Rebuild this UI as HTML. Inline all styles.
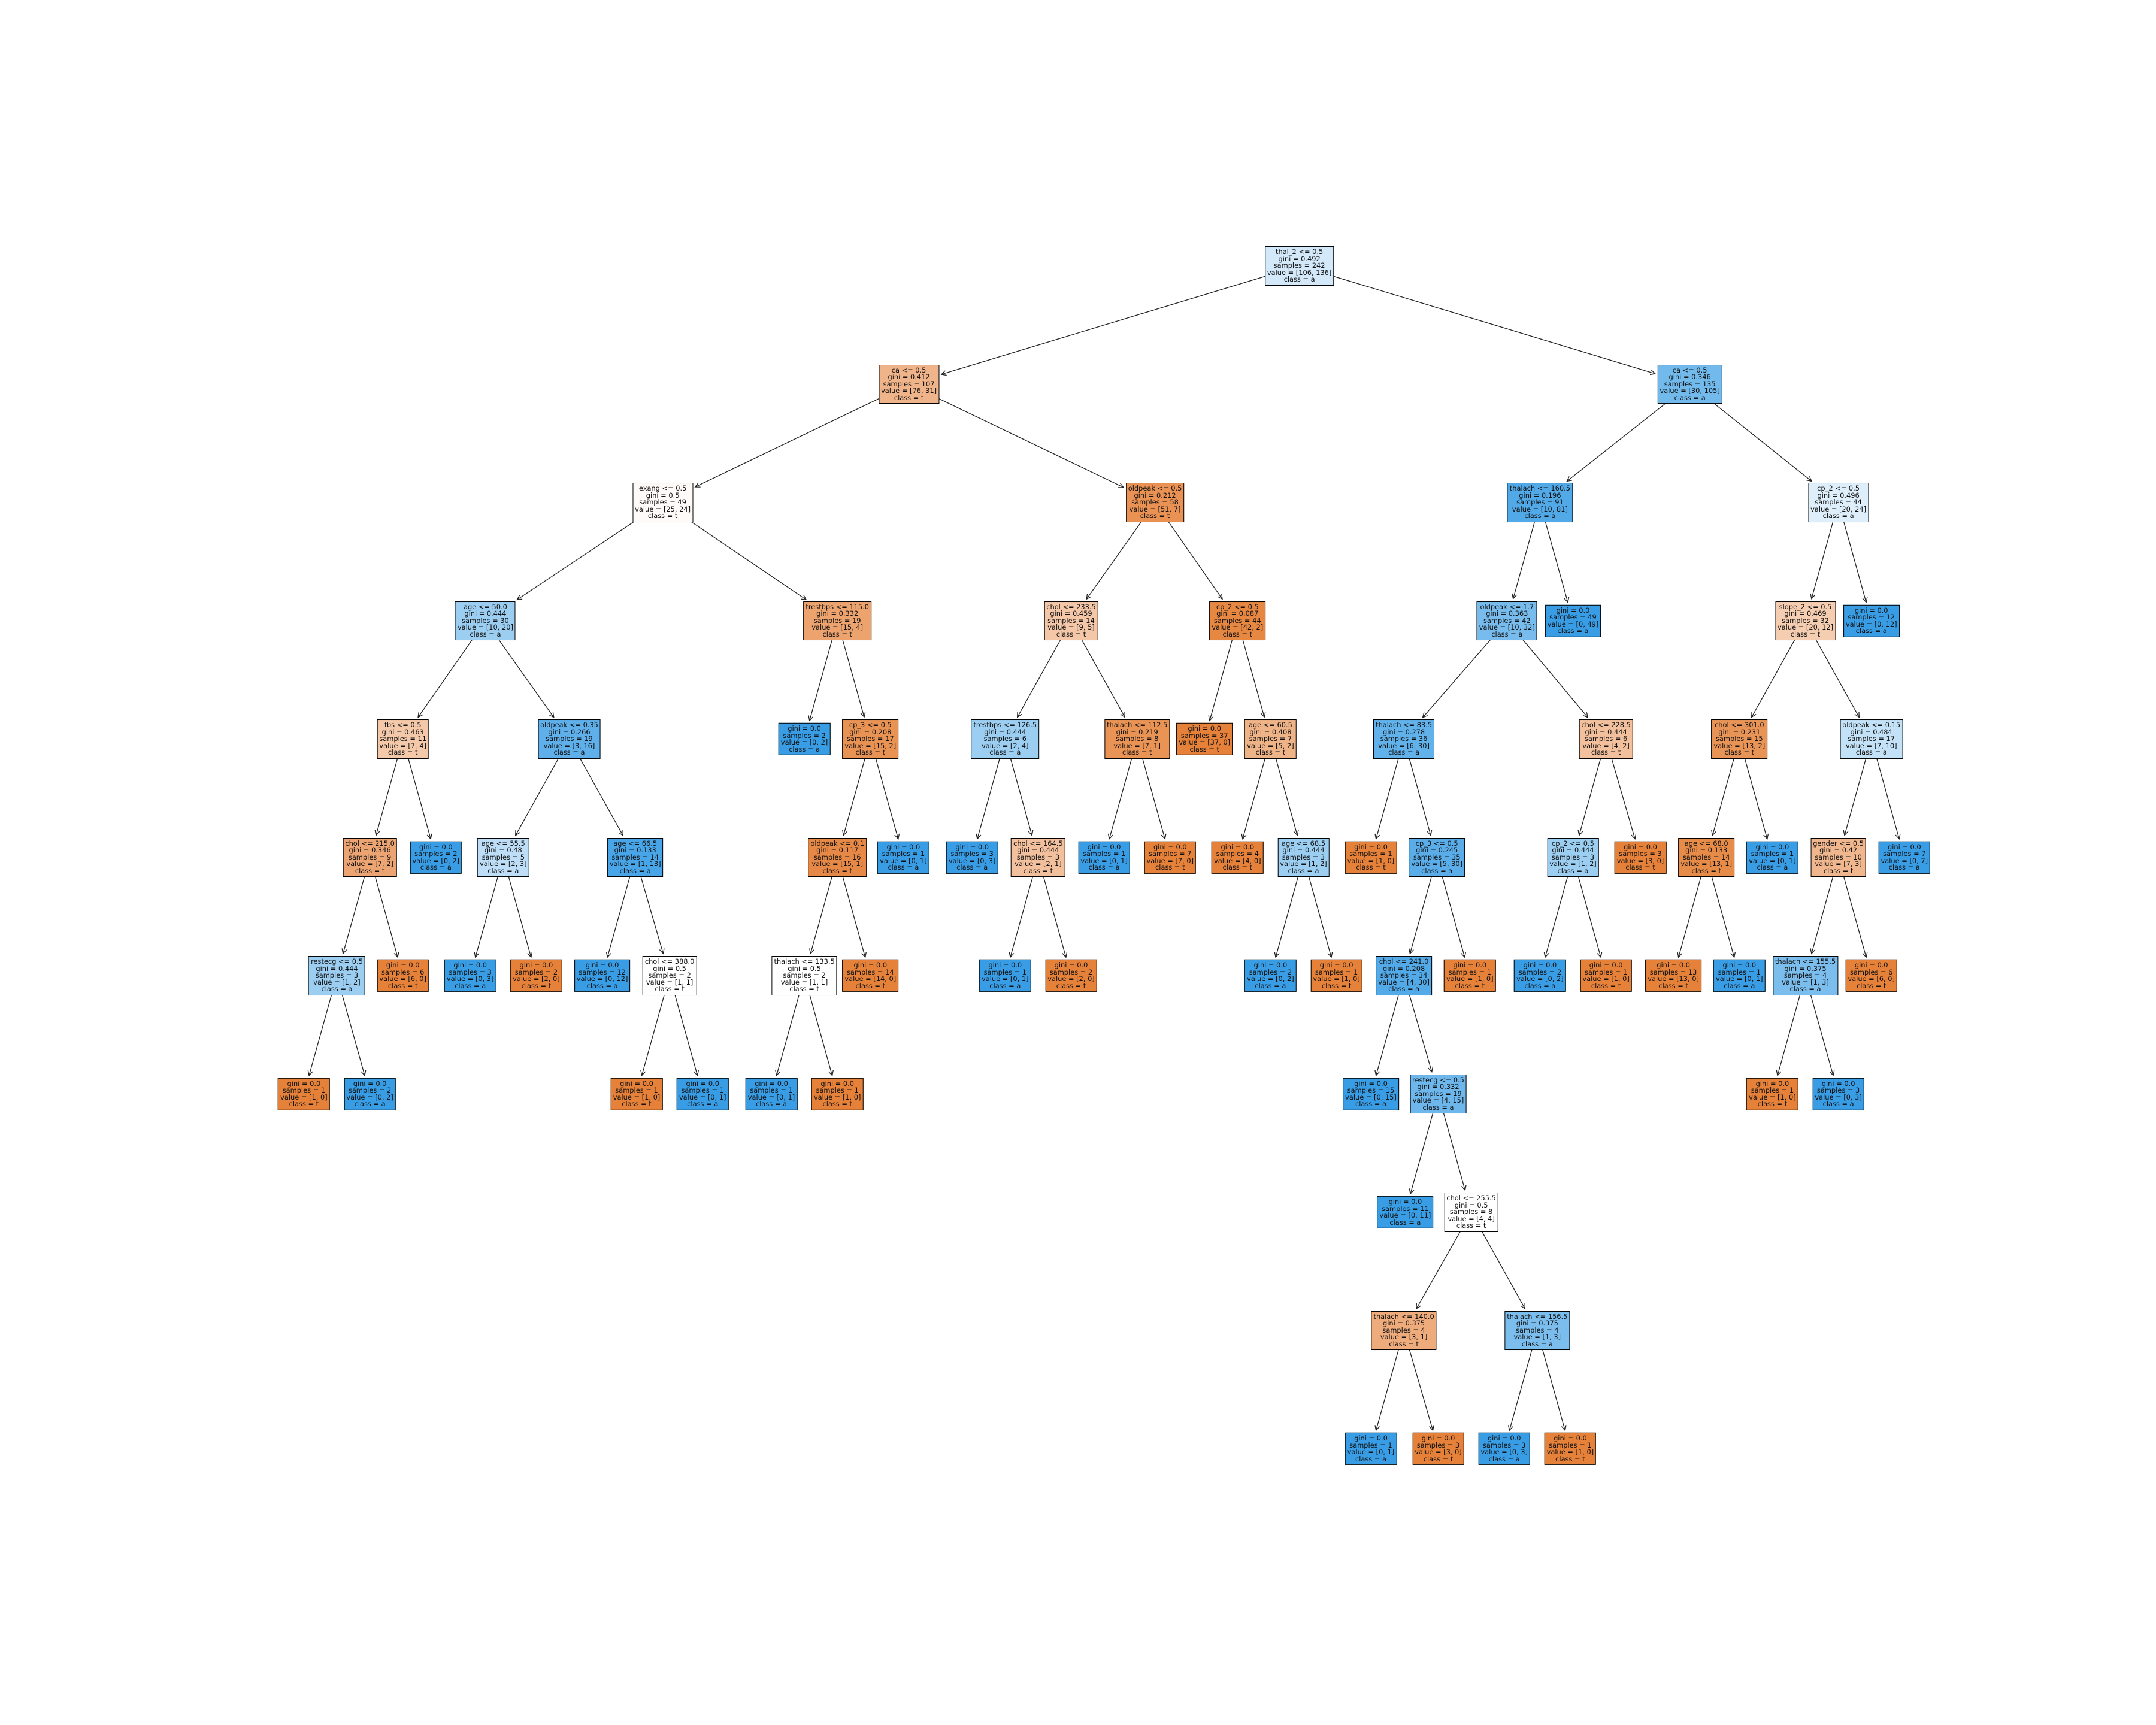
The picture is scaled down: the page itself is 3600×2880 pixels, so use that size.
<!DOCTYPE html>
<html><head><meta charset="utf-8"><title>Decision tree</title>
<style>
html,body{margin:0;padding:0;background:#fff;}
#wrap{position:relative;width:3600px;height:2880px;overflow:hidden;background:#fff;}
svg{position:absolute;left:0;top:0;}
.node{position:absolute;transform:translate(-50%,-50%);border:1.3px solid #000;padding:3px 3px;
font-family:"DejaVu Sans","Liberation Sans",sans-serif;font-size:11.4px;line-height:11.6px;
text-align:center;white-space:nowrap;color:#111;box-sizing:border-box;}
</style></head><body>
<div id="wrap">
<svg id="edges" width="3600" height="2880"></svg>
</div>
<script>
const parents = [-1,0,1,2,3,4,5,6,6,5,4,3,11,12,12,11,15,15,17,17,2,20,20,22,23,24,24,23,22,1,29,30,31,31,33,33,30,36,36,29,39,39,41,41,43,43,0,46,47,48,49,49,51,52,52,54,54,56,57,57,56,60,60,51,48,64,65,65,64,47,46,70,71,72,73,73,72,71,77,78,79,79,78,77,70];
const depths = [0,1,2,3,4,5,6,7,7,6,5,4,5,6,6,5,6,6,7,7,3,4,4,5,6,7,7,6,5,2,3,4,5,5,6,6,4,5,5,3,4,4,5,5,6,6,1,2,3,4,5,5,6,7,7,8,8,9,10,10,9,10,10,6,4,5,6,6,5,3,2,3,4,5,6,6,5,4,5,6,7,7,6,5,3];
const splits = ["thal_2 <= 0.5","ca <= 0.5","exang <= 0.5","age <= 50.0","fbs <= 0.5","chol <= 215.0","restecg <= 0.5",null,null,null,null,"oldpeak <= 0.35","age <= 55.5",null,null,"age <= 66.5",null,"chol <= 388.0",null,null,"trestbps <= 115.0",null,"cp_3 <= 0.5","oldpeak <= 0.1","thalach <= 133.5",null,null,null,null,"oldpeak <= 0.5","chol <= 233.5","trestbps <= 126.5",null,"chol <= 164.5",null,null,"thalach <= 112.5",null,null,"cp_2 <= 0.5",null,"age <= 60.5",null,"age <= 68.5",null,null,"ca <= 0.5","thalach <= 160.5","oldpeak <= 1.7","thalach <= 83.5",null,"cp_3 <= 0.5","chol <= 241.0",null,"restecg <= 0.5",null,"chol <= 255.5","thalach <= 140.0",null,null,"thalach <= 156.5",null,null,null,"chol <= 228.5","cp_2 <= 0.5",null,null,null,null,"cp_2 <= 0.5","slope_2 <= 0.5","chol <= 301.0","age <= 68.0",null,null,null,"oldpeak <= 0.15","gender <= 0.5","thalach <= 155.5",null,null,null,null,null];
const ginis = ["0.492","0.412","0.5","0.444","0.463","0.346","0.444","0.0","0.0","0.0","0.0","0.266","0.48","0.0","0.0","0.133","0.0","0.5","0.0","0.0","0.332","0.0","0.208","0.117","0.5","0.0","0.0","0.0","0.0","0.212","0.459","0.444","0.0","0.444","0.0","0.0","0.219","0.0","0.0","0.087","0.0","0.408","0.0","0.444","0.0","0.0","0.346","0.196","0.363","0.278","0.0","0.245","0.208","0.0","0.332","0.0","0.5","0.375","0.0","0.0","0.375","0.0","0.0","0.0","0.444","0.444","0.0","0.0","0.0","0.0","0.496","0.469","0.231","0.133","0.0","0.0","0.0","0.484","0.42","0.375","0.0","0.0","0.0","0.0","0.0"];
const valT = [106,76,25,10,7,7,1,1,0,6,0,3,2,0,2,1,0,1,1,0,15,0,15,15,1,0,1,14,0,51,9,2,0,2,0,2,7,0,7,42,37,5,4,1,0,1,30,10,10,6,1,5,4,0,4,0,4,3,0,3,1,0,1,1,4,1,0,1,3,0,20,20,13,13,13,0,0,7,7,1,1,0,6,0,0];
const valA = [136,31,24,20,4,2,2,0,2,0,2,16,3,3,0,13,12,1,0,1,4,2,2,1,1,1,0,0,1,7,5,4,3,1,1,0,1,1,0,2,0,2,0,2,2,0,105,81,32,30,0,30,30,15,15,11,4,1,1,0,3,3,0,0,2,2,2,0,0,49,24,12,2,1,0,1,1,10,3,3,0,3,0,7,12];
const xs = [945,661,482,353,293,269,245,221,269,293,317,414,366,342,390,462,438,487,463,511,609,585,633,609,585,561,609,633,657,840,779,731,707,755,731,779,827,803,851,900,876,924,900,948,924,972,1229,1120,1096,1021,997,1045,1021,997,1046,1022,1070,1021,997,1046,1118,1094,1142,1069,1168,1144,1120,1168,1193,1144,1337,1313,1265,1241,1217,1265,1289,1361,1337,1313,1289,1337,1361,1385,1361];

const SX = 2.2959, Y0 = 444, DY = 197.5;
const wrap = document.getElementById('wrap');
const svg = document.getElementById('edges');
const NS = 'http://www.w3.org/2000/svg';
function px(i){return xs[i]*SX;}
function py(i){return Y0 + depths[i]*DY;}
function colorFor(t,a){
  const n=t+a, pt=t/n, pa=a/n;
  const mx=Math.max(pt,pa), mn=Math.min(pt,pa);
  const alpha = mn>=1?0:(mx-mn)/(1-mn);
  const base = pt>=pa?[229,129,57]:[57,157,229];
  const c = base.map(v=>Math.round(alpha*v+(1-alpha)*255));
  return 'rgb('+c.join(',')+')';
}
const boxes=[];
for(let i=0;i<parents.length;i++){
  const d=document.createElement('div');
  d.className='node';
  
  
  const lines=[];
  if(splits[i]) lines.push(splits[i]);
  lines.push('gini = '+ginis[i]);
  lines.push('samples = '+(valT[i]+valA[i]));
  lines.push('value = ['+valT[i]+', '+valA[i]+']');
  lines.push('class = '+(valT[i]>=valA[i]?'t':'a'));
  d.innerHTML=lines.join('<br>');
  d.style.left=px(i)+'px';
  d.style.top=py(i)+'px';
  d.style.background=colorFor(valT[i],valA[i]);
  wrap.appendChild(d);
  boxes.push(d);
}
function mk(tag,attrs){const e=document.createElementNS(NS,tag);for(const k in attrs)e.setAttribute(k,attrs[k]);return e;}
for(let i=1;i<parents.length;i++){
  const p=parents[i];
  const x1=px(p),y1=py(p),x2=px(i),y2=py(i);
  const hw=boxes[i].offsetWidth/2, hh=boxes[i].offsetHeight/2;
  const dx=x2-x1, dy=y2-y1;
  let t=1-Math.min(hh/Math.abs(dy), hw/Math.abs(dx||1e-9));
  const L=Math.hypot(dx,dy);
  t-=4/L;
  const ex=x1+dx*t, ey=y1+dy*t;
  const g=mk('g',{});
  
  
  g.appendChild(mk('line',{x1:x1,y1:y1,x2:ex,y2:ey,stroke:'#222','stroke-width':1.3}));
  const ux=dx/L, uy=dy/L, hl=8, hwid=4;
  const bx=ex-ux*hl, by=ey-uy*hl;
  g.appendChild(mk('polyline',{points:(bx-uy*hwid)+','+(by+ux*hwid)+' '+ex+','+ey+' '+(bx+uy*hwid)+','+(by-ux*hwid),fill:'none',stroke:'#222','stroke-width':1.3}));
  svg.appendChild(g);
}
</script>
</body></html>
